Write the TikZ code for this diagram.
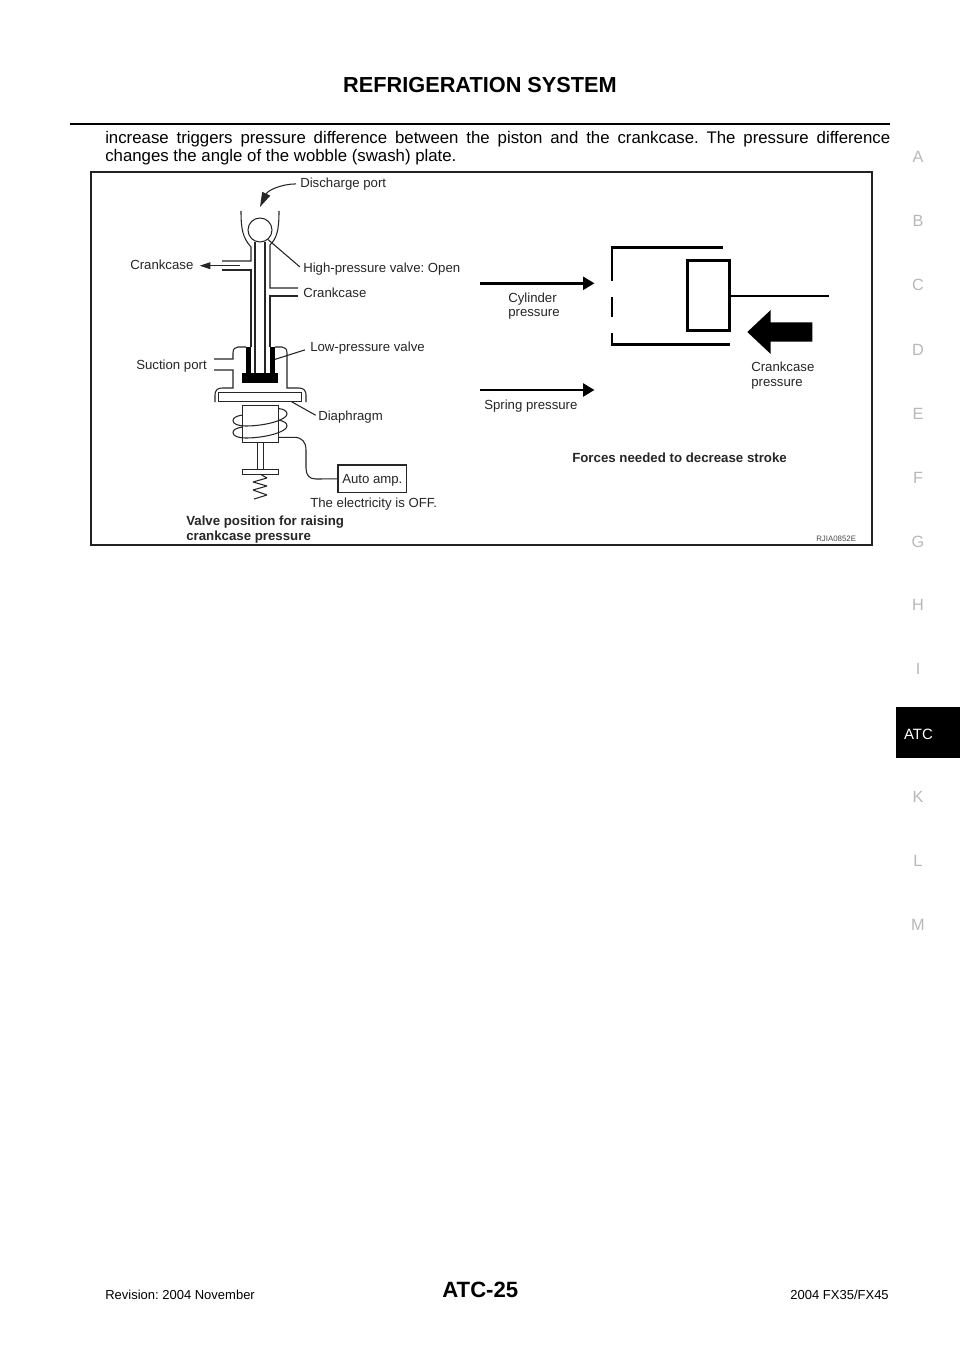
\documentclass[tikz,border=0pt]{standalone}
\usepackage{fontspec}
\setmainfont{Liberation Sans}
\usetikzlibrary{arrows.meta,positioning}
\definecolor{mFrame}{HTML}{222222}
\definecolor{mSide}{HTML}{B8B8B8}
\begin{document}
\frenchspacing
\begin{tikzpicture}[
        x=0.75pt, y=-0.75pt,
        lbl/.style={inner sep=0pt, anchor=base west, font=\fontsize{9.9}{11}\selectfont, text=black!85},
        lblbold/.style={lbl, font=\fontsize{9.95}{11}\bfseries\selectfont},
        sidelet/.style={inner sep=0pt, font=\fontsize{12.2}{14}\selectfont, text=mSide},
        foot/.style={inner sep=0pt, font=\fontsize{9.75}{12}\selectfont},
        outl/.style={draw, inner sep=0pt, outer sep=0pt, anchor=north west},
        blk/.style={fill=black, inner sep=0pt, outer sep=0pt, anchor=north west},
        thinl/.style={line width=0.8pt, black!85},
        heavy/.style={line width=2.2pt, black},
        pushar/.style={-{Triangle[length=8.5pt,width=9.5pt]}, line width=2.2pt, black},
    ]
    \useasboundingbox (0,0) rectangle (960,1358);
    \fill[white] (0,0) rectangle (960,1358);

    % page head
    \node[inner sep=0pt, anchor=base, font=\fontsize{16.3}{20}\bfseries\selectfont] (title) at (480,92.7) {REFRIGERATION SYSTEM};
    \coordinate (ruleL) at (70,124);
    \coordinate (ruleR) at (890,124);
    \draw[line width=1.8pt] (ruleL) -- (ruleR);
    \node[inner sep=0pt, anchor=base west, text width=588.75pt, align=justify, font=\fontsize{12.6}{13.8}\selectfont] (intro) at (105,143.3)
        {increase triggers pressure difference between the piston and the crankcase. The pressure difference\linebreak changes the angle of the wobble (swash) plate.};

    % frame
    \node[outl, draw=mFrame, line width=1.5pt, minimum width=585.75pt, minimum height=280.1pt] (frame) at (90.5,172) {};

    % valve, upper part
    \node[draw, thinl, circle, inner sep=0pt, minimum size=18pt] (ball) at (260,230) {};
    \draw[thinl] (241,211) .. controls (241,230) and (243,238) .. (251,247) -- (251,261) -- (222,261);
    \draw[thinl] (222,270) -- (251,270) -- (251,347);
    \draw[thinl] (279,211) .. controls (279,230) and (277,238) .. (270,245) -- (270,288) -- (298,288);
    \draw[thinl] (298,296) -- (270,296) -- (270,347);
    \draw[thinl] (255,242) -- (255,373);
    \draw[thinl] (265,242) -- (265,373);

    \node[lbl] (dport) at (300,187.3) {Discharge port};
    \node[lbl] (hpv) at (303,273) {High-pressure valve: Open};
    \node[lbl] (crankR) at (303,297.3) {Crankcase};
    \node[lbl] (crankL) at (130,269.3) {Crankcase};
    \node[lbl] (lpv) at (310,351.7) {Low-pressure valve};
    \node[lbl] (suction) at (136,369.3) {Suction port};
    \node[lbl] (diaph) at (318,420) {Diaphragm};

    \coordinate (dtip) at (260,207);
    \coordinate (cktail) at (240,265.7);
    \draw[thinl, shorten <=3pt, -{Triangle[length=11pt,width=6.5pt]}] (dport.west) .. controls (282,184) and (268,190) .. (dtip);
    \draw[thinl, -{Triangle[length=8pt,width=5pt]}] (cktail) -- ([xshift=4.5pt]crankL.east |- cktail);
    \draw[thinl, shorten >=3pt] (ball.-50) -- (hpv.west);

    % valve, lower part
    \draw[thinl] (214,359) -- (233,359) -- (233,353) .. controls (233,349) and (235,347) .. (238,347) -- (246,347);
    \draw[thinl] (214,370) -- (233,370) -- (233,388) -- (222,388) .. controls (217,388) and (215,391) .. (215,395) -- (215,402);
    \draw[thinl] (275,347) -- (282,347) .. controls (285,347) and (287,349) .. (287,353) -- (287,388) -- (299,388) .. controls (304,388) and (306,391) .. (306,395) -- (306,402);
    \node[outl, thinl, minimum width=62.6pt, minimum height=7pt] (diaplate) at (218.3,392.5) {};
    \node[blk, minimum width=3.8pt, minimum height=20pt] (lpvL) at (245.7,347) {};
    \node[blk, minimum width=3.8pt, minimum height=20pt] (lpvR) at (270,347) {};
    \node[blk, minimum width=27pt, minimum height=7pt] (lpvB) at (242.3,373.5) {};
    \draw[thinl, shorten >=4pt] (lpvR.east) ++(0,-1) -- (lpv.west);
    \draw[thinl, shorten >=2pt] (diaplate.south east) ++(-10,0) -- (diaph.west);

    % solenoid
    \draw[thinl] (287,414) .. controls (287,411) and (284,409) .. (278,408.5);
    \draw[thinl] (242.5,415) .. controls (236,416) and (233,418) .. (233,420.5) .. controls (233,424) and (238,426) .. (246,426) .. controls (265,426) and (287,420) .. (287,414);
    \draw[thinl] (287,426) .. controls (287,423) and (284,421) .. (278,420);
    \draw[thinl] (242.5,427) .. controls (236,428) and (233,430) .. (233,432.5) .. controls (233,436) and (238,438) .. (246,438) .. controls (265,438) and (287,432) .. (287,426);
    \node[outl, thinl, minimum width=27pt, minimum height=27.4pt] (coil) at (242.3,405.7) {};
    \node[outl, thinl, minimum width=51.5pt, minimum height=20.8pt, text height=7.6pt, text depth=0pt, font=\fontsize{9.9}{11}\selectfont] (amp) at (338,465) {Auto amp.};
    \node[lbl] (elec) at (310,507.7) {The electricity is OFF.};
    \coordinate (wirestart) at (278.3,437.3);
    \draw[thinl] (wirestart) -- (294,437.3) .. controls (302,437.3) and (306,442) .. (306,450) -- (306,468) .. controls (306,475) and (309,479) .. (316,479) -- (amp.west);

    % rod, plate and spring
    \node[outl, thinl, minimum width=4.5pt, minimum height=20.2pt] (rod) at (257.3,442.3) {};
    \node[outl, thinl, minimum width=27pt, minimum height=3.5pt] (plate) at (242.3,469.5) {};
    \draw[thinl, line join=bevel] (plate.south) -- (267,478) -- (253,482) -- (267,486) -- (253,490) -- (267,495) -- (254,499);

    \node[lblbold] (vcap1) at (186,525) {Valve position for raising};
    \node[lblbold] (vcap2) at (186,540) {crankcase pressure};

    % forces
    \draw[heavy] (722.7,247.3) -- (612,247.3) -- (612,281);
    \draw[heavy] (612,297) -- (612,316.7);
    \draw[heavy] (612,333) -- (612,344.7) -- (729.5,344.7);
    \node[outl, heavy, minimum width=31.7pt, minimum height=52.6pt] (piston) at (687.2,260.7) {};
    \coordinate (rodend) at (829.3,296);
    \draw[heavy] (piston.east |- rodend) -- (rodend);

    \coordinate (cylS) at (480,283.3);
    \coordinate (cylE) at (594.5,283.3);
    \coordinate (sprS) at (480,390);
    \coordinate (sprE) at (594.5,390);
    \draw[pushar] (cylS) -- (cylE);
    \draw[pushar] (sprS) -- (sprE);
    \fill (747.3,332) -- (770.7,310) -- (770.7,322.3) -- (812.3,322.3) -- (812.3,341.7) -- (770.7,341.7) -- (770.7,354) -- cycle;

    \node[lbl] (cyl1) at (508,302.7) {Cylinder};
    \node[lbl] (cyl2) at (508,316.7) {pressure};
    \node[lbl] (spr) at (484,409) {Spring pressure};
    \node[lbl] (cc1) at (751,372) {Crankcase};
    \node[lbl] (cc2) at (751,386.7) {pressure};
    \node[lblbold] (fcap) at (572,462) {Forces needed to decrease stroke};
    \node[lbl, font=\fontsize{5.9}{7}\selectfont, text=black!70] (code) at (816,541.7) {RJIA0852E};

    % side tabs
    \foreach \nm/\yy in {A/157,B/221,C/285,D/350,E/414,F/478,G/542,H/605,I/669,K/797,L/861,M/925}
        \node[sidelet] (tab\nm) at (918,\yy) {\nm};
    \node[blk, minimum width=48pt, minimum height=38.3pt] (tabATC) at (896,707.3) {};
    \node[inner sep=0pt, anchor=base, text=white, font=\fontsize{11.2}{14}\selectfont] (tabtext) at (918.5,739) {ATC};

    % page foot
    \node[foot, anchor=base west] (rev) at (105,1299) {Revision: 2004 November};
    \node[foot, anchor=base, font=\fontsize{16.6}{20}\bfseries\selectfont] (page) at (480.3,1297.7) {ATC-25};
    \node[foot, anchor=base east] (model) at (889,1299) {2004 FX35/FX45};
\end{tikzpicture}
\end{document}
